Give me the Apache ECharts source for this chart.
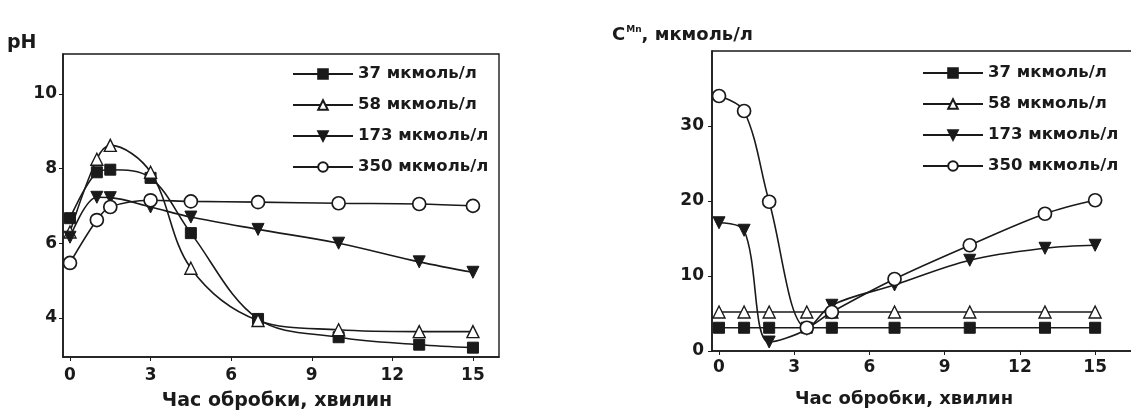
<!DOCTYPE html>
<html>
<head>
<meta charset="utf-8">
<script src="https://cdn.jsdelivr.net/npm/echarts@6/dist/echarts.min.js"></script>
<style>html,body{margin:0;padding:0;background:#fff;}#c{width:1131px;height:412px;}</style>
</head>
<body>
<div id="c"></div>
<script>
// ---- data ----
const seriesNames = ['37 мкмоль/л', '58 мкмоль/л', '173 мкмоль/л', '350 мкмоль/л'];
const seriesNamesRight = ['37 мкмоль/л', '58 мкмоль/л', '173 мкмоль/л', '350 мкмоль/л'];
const timeLeft = [0, 1, 1.5, 3, 4.5, 7, 10, 13, 15];
const pH37 = [6.67, 7.9, 7.97, 7.75, 6.27, 3.97, 3.48, 3.28, 3.2];
const pH58 = [6.3, 8.25, 8.62, 7.9, 5.33, 3.93, 3.68, 3.63, 3.63];
const pH173 = [6.16, 7.23, 7.22, 6.97, 6.7, 6.37, 6.0, 5.5, 5.22];
const pH350 = [5.47, 6.62, 6.97, 7.15, 7.12, 7.1, 7.07, 7.05, 7.0];
const timeRight = [0, 1, 2, 3.5, 4.5, 7, 10, 13, 15];
const mn37 = [3.1, 3.1, 3.1, 3.1, 3.1, 3.1, 3.1, 3.1, 3.1];
const mn58 = [5.2, 5.2, 5.2, 5.2, 5.2, 5.2, 5.2, 5.2, 5.2];
const mn173 = [17.1, 16.1, 1.2, 2.9, 6.1, 8.8, 12.1, 13.7, 14.1];
const mn350 = [34.0, 32.0, 19.9, 3.1, 5.2, 9.6, 14.1, 18.3, 20.1];
const xTicks = [0, 3, 6, 9, 12, 15];
const yTicksLeft = [4, 6, 8, 10];
const yTicksRight = [0, 10, 20, 30];
const xTitle = 'Час обробки, хвилин';
const yTitleLeft = 'pH';

const FONT = 'DejaVu Sans';
const ink = '#1a1a1a';
const zip = (xs, ys) => xs.map((x, i) => [x, ys[i]]);
const styles = [
  {symbol: 'rect', symbolSize: 11, itemStyle: {color: ink, borderColor: ink, borderWidth: 1}},
  {symbol: 'triangle', symbolSize: 12, itemStyle: {color: '#fff', borderColor: ink, borderWidth: 1.4}},
  {symbol: 'triangle', symbolSize: 12, symbolRotate: 180, itemStyle: {color: ink, borderColor: ink, borderWidth: 1}},
  {symbol: 'circle', symbolSize: 13, itemStyle: {color: '#fff', borderColor: ink, borderWidth: 1.7}}
];
function mk(name, data, k, axisIdx) {
  return Object.assign({
    name: name, type: 'line', data: data, xAxisIndex: axisIdx, yAxisIndex: axisIdx,
    smooth: 0.35, showSymbol: true, z: 3 + k,
    lineStyle: {color: ink, width: 1.6}, emphasis: {disabled: true}, animation: false
  }, JSON.parse(JSON.stringify(styles[k])));
}
const axisLine = {show: true, onZero: false, lineStyle: {color: ink, width: 1.6}};
const lab = {color: ink, fontFamily: FONT, fontWeight: 'bold', fontSize: 17};
const legendText = {color: ink, fontFamily: FONT, fontWeight: 'bold', fontSize: 16.5, lineHeight: 18};

const chart = echarts.init(document.getElementById('c'), null, {renderer: 'canvas'});
chart.setOption({
  backgroundColor: '#fff',
  animation: false,
  grid: [
    {left: 63, top: 54, width: 436, height: 303, outerBoundsMode: 'none', containLabel: false, show: true, borderColor: ink, borderWidth: 1.4, backgroundColor: 'transparent'},
    {left: 712, top: 51, width: 422, height: 300, outerBoundsMode: 'none', containLabel: false, show: true, borderColor: ink, borderWidth: 1.4, backgroundColor: 'transparent'}
  ],
  xAxis: [
    {type: 'value', gridIndex: 0, min: -0.26, max: 15.97, splitLine: {show: false}, axisLine: axisLine,
     axisTick: {show: true, customValues: xTicks, length: 4, lineStyle: {color: ink}},
     axisLabel: Object.assign({customValues: xTicks, margin: 10}, lab),
     name: xTitle, nameLocation: 'middle', nameGap: 35, nameTextStyle: Object.assign({}, lab, {fontSize: 19, padding: [0, 8, 0, 0]})},
    {type: 'value', gridIndex: 1, min: -0.28, max: 16.55, splitLine: {show: false}, axisLine: axisLine,
     axisTick: {show: true, customValues: xTicks, length: 4, lineStyle: {color: ink}},
     axisLabel: Object.assign({customValues: xTicks, margin: 8}, lab),
     name: xTitle, nameLocation: 'middle', nameGap: 39, nameTextStyle: Object.assign({}, lab, {fontSize: 18, padding: [0, 38, 0, 0]})}
  ],
  yAxis: [
    {type: 'value', gridIndex: 0, min: 2.95, max: 11.07, splitLine: {show: false}, axisLine: axisLine,
     axisTick: {show: true, customValues: yTicksLeft, length: 4, lineStyle: {color: ink}},
     axisLabel: Object.assign({customValues: yTicksLeft, margin: 6}, lab)},
    {type: 'value', gridIndex: 1, min: 0, max: 40, splitLine: {show: false}, axisLine: axisLine,
     axisTick: {show: true, customValues: yTicksRight, length: 4, lineStyle: {color: ink}},
     axisLabel: Object.assign({customValues: yTicksRight, margin: 8}, lab)}
  ],
  legend: [
    {data: seriesNames, orient: 'vertical', left: 287, top: 60, itemWidth: 60, itemHeight: 12, itemGap: 13,
     textStyle: legendText, selectedMode: false},
    {data: seriesNamesRight, orient: 'vertical', left: 917, top: 59, itemWidth: 60, itemHeight: 12, itemGap: 13,
     textStyle: legendText, selectedMode: false}
  ],
  graphic: [
    {type: 'text', left: 7, top: 34, style: {text: yTitleLeft, font: 'bold 19px "DejaVu Sans"', fill: ink}},
    {type: 'text', left: 612, top: 25, style: {
      text: '{a|C}{s|Mn}{a|, мкмоль/л}',
      rich: {
        a: {font: 'bold 18px "DejaVu Sans"', fill: ink, verticalAlign: 'bottom'},
        s: {font: 'bold 9px "DejaVu Sans"', fill: ink, verticalAlign: 'top', padding: [0, 0, 10, 1]}
      }, fill: ink}}
  ],
  series: [
    mk(seriesNames[0], zip(timeLeft, pH37), 0, 0),
    mk(seriesNames[1], zip(timeLeft, pH58), 1, 0),
    mk(seriesNames[2], zip(timeLeft, pH173), 2, 0),
    mk(seriesNames[3], zip(timeLeft, pH350), 3, 0),
    mk(seriesNamesRight[0], zip(timeRight, mn37), 0, 1),
    mk(seriesNamesRight[1], zip(timeRight, mn58), 1, 1),
    mk(seriesNamesRight[2], zip(timeRight, mn173), 2, 1),
    mk(seriesNamesRight[3], zip(timeRight, mn350), 3, 1)
  ]
});
</script>
</body>
</html>
